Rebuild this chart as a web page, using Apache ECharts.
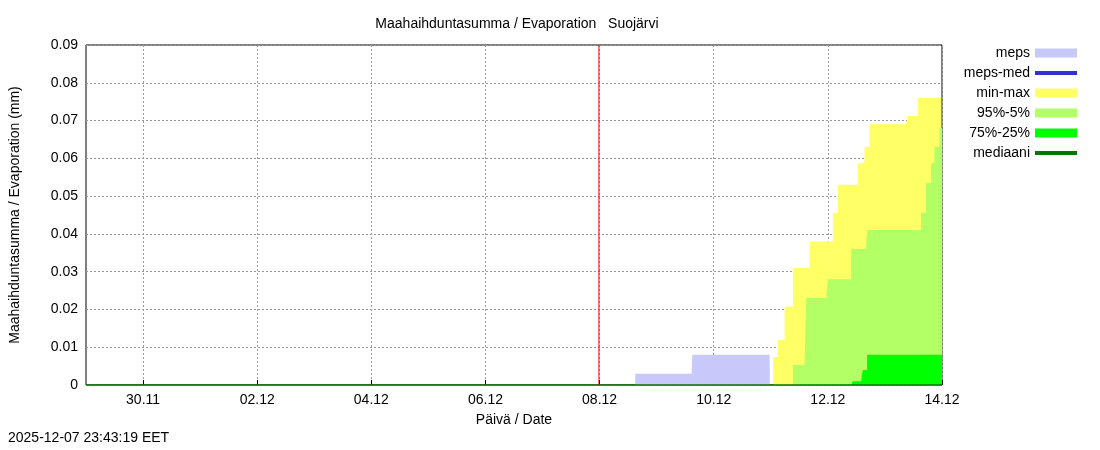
<!DOCTYPE html>
<html><head><meta charset="utf-8">
<script src="https://cdn.jsdelivr.net/npm/echarts@6/dist/echarts.min.js"></script>
<style>html,body{margin:0;background:#fff}#c{width:1100px;height:450px}</style>
</head><body><div id="c"></div>
<script>
// hours since 29.11.2025 00:00, value (mm)
const mepsH   = [0, 229, 231, 254.7, 255, 287.5, 287.6, 360];
const mepsV   = [0, 0, 0.003, 0.003, 0.008, 0.008, 0, 0];
const maxH = [287.5, 289, 291, 293.8, 297.3, 302.2, 304.3, 312.7, 314.1, 316.2, 323.6, 324.6, 327.4, 329.5, 344.9, 345.6, 349.8, 358.2, 359.6, 360];
const maxV = [0, 0.0074, 0.012, 0.0207, 0.031, 0.031, 0.038, 0.038, 0.0455, 0.053, 0.053, 0.0587, 0.063, 0.069, 0.069, 0.0712, 0.076, 0.076, 0.081, 0.081];
const p95H = [293.8, 297.3, 302.2, 302.9, 311.3, 312, 320.1, 321.8, 328.1, 328.5, 349.8, 351.2, 353.3, 355.4, 356.8, 358.9, 360];
const p95V = [0, 0.0053, 0.0053, 0.023, 0.023, 0.028, 0.028, 0.036, 0.036, 0.041, 0.041, 0.0455, 0.0535, 0.0587, 0.063, 0.068, 0.068];
const p75H = [321.8, 322.5, 326, 326.7, 328.5, 360];
const p75V = [0, 0.001, 0.001, 0.004, 0.008, 0.008];
const nowH = 215.72;
const tickH = [24, 72, 120, 168, 216, 264, 312, 360];
const tickLabels = ['30.11','02.12','04.12','06.12','08.12','10.12','12.12','14.12'];

const pts = (h, v) => h.map((x, i) => [x, v[i]]);
const area = (name, h, v, color) => ({
  name, type: 'line', step: 'end', symbol: 'none', data: pts(h, v),
  lineStyle: {width: 0}, itemStyle: {color}, areaStyle: {color, opacity: 1}, silent: true
});
const chart = echarts.init(document.getElementById('c'));
chart.setOption({
  animation: false,
  textStyle: {fontFamily: 'Liberation Sans, Arial, sans-serif'},
  title: {text: 'Maahaihduntasumma / Evaporation   Suojärvi', left: 512, top: 12, textAlign: 'center',
          textStyle: {fontSize: 14, fontWeight: 'normal', color: '#000'}},
  grid: {left: 83, right: 158, top: 45, bottom: 65, show: true, borderColor: '#000', borderWidth: 1},
  legend: {orient: 'vertical', right: 18, top: 41, align: 'right', itemWidth: 42, itemHeight: 9, itemGap: 6,
           textStyle: {fontSize: 14, color: '#000'},
           data: [
             {name: 'meps', icon: 'rect'}, {name: 'meps-med', icon: 'path://M0,0H10V1H0Z'},
             {name: 'min-max', icon: 'rect'}, {name: '95%-5%', icon: 'rect'},
             {name: '75%-25%', icon: 'rect'}, {name: 'mediaani', icon: 'path://M0,0H10V1H0Z'}]},
  xAxis: {type: 'value', min: 0, max: 360,
          name: 'Päivä / Date', nameLocation: 'middle', nameGap: 28, nameTextStyle: {fontSize: 14, color: '#000'},
          axisLine: {show: false},
          axisTick: {inside: true, customValues: tickH, lineStyle: {color: '#000'}},
          axisLabel: {fontSize: 14, color: '#000', customValues: tickH,
                      formatter: v => tickLabels[tickH.indexOf(v)] || ''},
          splitLine: {show: true, lineStyle: {type: [2, 2], color: '#999'}}},
  yAxis: {type: 'value', min: 0, max: 0.09, interval: 0.01,
          name: 'Maahaihduntasumma / Evaporation (mm)', nameLocation: 'middle', nameGap: 64,
          nameTextStyle: {fontSize: 14, color: '#000'},
          axisLine: {show: false}, axisTick: {show: false},
          axisLabel: {fontSize: 14, color: '#000', formatter: v => v === 0 ? '0' : v.toFixed(2)},
          splitLine: {show: true, lineStyle: {type: [2, 2], color: '#999'}}},
  series: [
    area('meps', mepsH, mepsV, '#c8c8fa'),
    {name: 'meps-med', type: 'line', data: [], itemStyle: {color: '#3333cc'}, lineStyle: {color: '#3333cc'}},
    area('min-max', maxH, maxV, '#ffff66'),
    area('95%-5%', p95H, p95V, '#b3ff66'),
    area('75%-25%', p75H, p75V, '#00ff00'),
    {name: 'mediaani', type: 'line', symbol: 'none', data: [[0, 0], [360, 0]],
     itemStyle: {color: '#007700'}, lineStyle: {color: '#007700', width: 1.5}},
    {name: 'now', type: 'line', symbol: 'none', silent: true, data: [[nowH, 0], [nowH, 0.09]],
     lineStyle: {color: '#ff0000', width: 1}, itemStyle: {color: '#ff0000'}}
  ],
  graphic: [{type: 'text', left: 8, top: 431, style: {text: '2025-12-07 23:43:19 EET', fontSize: 14, fill: '#000',
             fontFamily: 'Liberation Sans, Arial, sans-serif'}}]
});
</script></body></html>
